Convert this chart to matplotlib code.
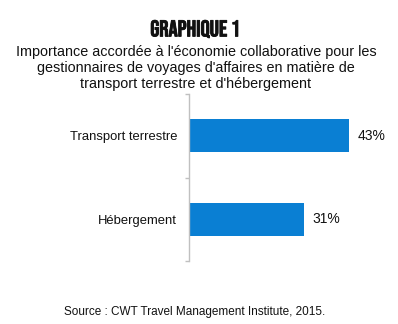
import matplotlib
matplotlib.use("Agg")
import matplotlib.pyplot as plt
import matplotlib.patheffects as pe
from matplotlib.ticker import FixedLocator

plt.rcParams['font.family'] = ['Liberation Sans', 'DejaVu Sans']

# data
categories = ["Transport terrestre", "Hébergement"]
values = [43, 31]
value_labels = ["43%", "31%"]

title = "GRAPHIQUE 1"
subtitle = ("Importance accordée à l'économie collaborative pour les\n"
            "gestionnaires de voyages d'affaires en matière de\n"
            "transport terrestre et d'hébergement")
source = "Source : CWT Travel Management Institute, 2015."

W, H = 398, 324
fig = plt.figure(figsize=(W / 100, H / 100), dpi=100)
ax = fig.add_axes([189 / W, 63 / H, 186 / W, 167 / H])

pos = list(range(len(categories)))
ax.barh(pos, values, height=0.4, color="#0a7fd3")
for p, v, lab in zip(pos, values, value_labels):
    ax.text(v + 2.3, p, lab, va="center", ha="left", fontsize=10, color="#111111")

ax.set_xlim(0, 50)
ax.set_ylim(1.5, -0.5)
ax.set_yticks(pos)
ax.set_yticklabels(categories, fontsize=9.4, color="#111111")
# small grey marks between the categories
ax.yaxis.set_minor_locator(FixedLocator([-0.5, 0.5, 1.5]))
ax.tick_params(axis="y", which="major", length=0, pad=8.6)
ax.tick_params(axis="y", which="minor", length=3, width=1, color="#c0c0c0")
ax.set_xticks([])
for s in ["top", "right", "bottom"]:
    ax.spines[s].set_visible(False)
ax.spines["left"].set_color("#c0c0c0")
ax.spines["left"].set_linewidth(1)

fig.text(195 / W, 1 - 29 / H, title, ha="center", va="center",
         fontsize=16.5, family=["Bebas Neue", "DejaVu Sans"], color="#111111",
         path_effects=[pe.withStroke(linewidth=0.6, foreground="#111111")])
fig.text(196 / W, 1 - 68 / H, subtitle, ha="center", va="center",
         fontsize=10.4, linespacing=1.22, color="#111111")
fig.text(195 / W, 1 - 312 / H, source, ha="center", va="center",
         fontsize=8.45, color="#111111")

fig.savefig("out.png", dpi=100)
